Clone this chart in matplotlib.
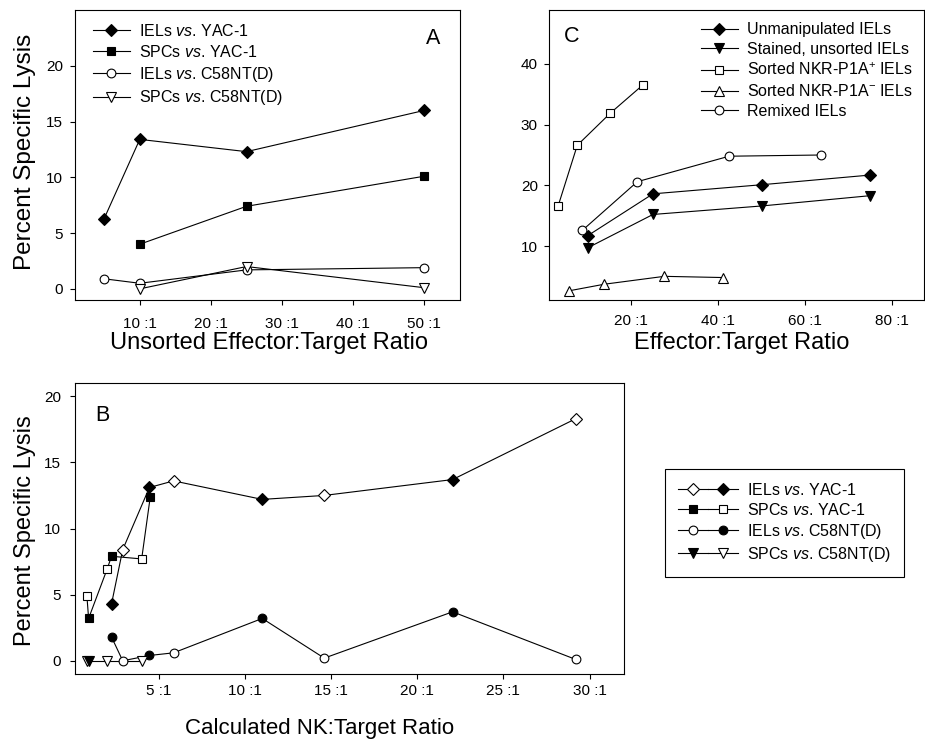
import matplotlib.pyplot as plt
from matplotlib.lines import Line2D
from matplotlib.legend_handler import HandlerTuple

plt.rcParams['font.family'] = ['Liberation Sans', 'DejaVu Sans']
plt.rcParams['mathtext.fontset'] = 'custom'
plt.rcParams['mathtext.rm'] = 'Liberation Sans'
plt.rcParams['mathtext.it'] = 'Liberation Sans:italic'

# ---- Panel A: unsorted effector:target ----
a_iel_yac_x = [5, 10, 25, 50]
a_iel_yac_y = [6.3, 13.4, 12.3, 16.0]
a_spc_yac_x = [10, 25, 50]
a_spc_yac_y = [4.0, 7.4, 10.1]
a_iel_c58_x = [5, 10, 25, 50]
a_iel_c58_y = [0.9, 0.5, 1.7, 1.9]
a_spc_c58_x = [10, 25, 50]
a_spc_c58_y = [0.0, 2.0, 0.1]
a_xticks = [10, 20, 30, 40, 50]
a_xticklabels = ['10 :1', '20 :1', '30 :1', '40 :1', '50 :1']
a_yticks = [0, 5, 10, 15, 20]

# ---- Panel C: sorted populations ----
c_unman_x = [10, 25, 50, 75]
c_unman_y = [11.7, 18.6, 20.1, 21.7]
c_stained_x = [10, 25, 50, 75]
c_stained_y = [9.7, 15.2, 16.6, 18.3]
c_pos_x = [3.2, 7.6, 15.2, 22.6]
c_pos_y = [16.6, 26.6, 31.9, 36.5]
c_neg_x = [5.6, 13.8, 27.6, 41.2]
c_neg_y = [2.6, 3.7, 5.0, 4.8]
c_remix_x = [8.8, 21.4, 42.5, 63.7]
c_remix_y = [12.6, 20.6, 24.8, 25.0]
c_xticks = [20, 40, 60, 80]
c_xticklabels = ['20 :1', '40 :1', '60 :1', '80 :1']
c_yticks = [10, 20, 30, 40]

# ---- Panel B: calculated NK:target (two experiments: open / filled) ----
b_iel_yac_open_x = [2.9, 5.85, 14.6, 29.2]
b_iel_yac_open_y = [8.4, 13.6, 12.5, 18.3]
b_iel_yac_fill_x = [2.25, 4.45, 11.0, 22.05]
b_iel_yac_fill_y = [4.3, 13.1, 12.2, 13.7]
b_spc_yac_open_x = [0.82, 2.0, 4.0]
b_spc_yac_open_y = [4.9, 6.95, 7.7]
b_spc_yac_fill_x = [0.92, 2.25, 4.5]
b_spc_yac_fill_y = [3.2, 7.9, 12.4]
b_iel_c58_open_x = [2.9, 5.85, 14.6, 29.2]
b_iel_c58_open_y = [0.0, 0.6, 0.2, 0.1]
b_iel_c58_fill_x = [2.25, 4.45, 11.0, 22.05]
b_iel_c58_fill_y = [1.8, 0.4, 3.2, 3.7]
b_spc_c58_open_x = [0.82, 2.0, 4.0]
b_spc_c58_open_y = [0.0, 0.0, 0.0]
b_spc_c58_fill_x = [0.92]
b_spc_c58_fill_y = [0.0]
b_xticks = [5, 10, 15, 20, 25, 30]
b_xticklabels = ['5 :1', '10 :1', '15 :1', '20 :1', '25 :1', '30 :1']
b_yticks = [0, 5, 10, 15, 20]

LW = 0.8
MEW = 0.8
SIZES = {'D': 6, 's': 6.2, 'o': 6.3, 'v': 6.5, '^': 6.5}


def style(marker, filled):
    return dict(marker=marker, ms=SIZES[marker], mew=MEW, mec='black',
                mfc='black' if filled else 'white', color='black', lw=LW)


def series(ax, x, y, marker, filled, label=None):
    ax.plot(x, y, label=label, zorder=3, **style(marker, filled))


def merged(ax, xo, yo, xf, yf, marker):
    # one line through both experiments, ordered by ratio
    pts = sorted(list(zip(xo, yo)) + list(zip(xf, yf)))
    ax.plot([p[0] for p in pts], [p[1] for p in pts], color='black', lw=LW, zorder=2)
    so = style(marker, False)
    sf = style(marker, True)
    so.pop('lw')
    sf.pop('lw')
    ax.plot(xo, yo, ls='none', zorder=3, **so)
    ax.plot(xf, yf, ls='none', zorder=3, **sf)


def frame(ax, xpad, ypad):
    for s in ax.spines.values():
        s.set_linewidth(0.8)
    ax.tick_params(axis='both', direction='out', length=3.5, width=0.8, labelsize=11)
    ax.tick_params(axis='x', pad=xpad)
    ax.tick_params(axis='y', pad=ypad)


fig = plt.figure(figsize=(9.25, 7.43), dpi=100)

vs = r'$\mathit{vs}$.'

# Panel A
axA = fig.add_axes([75 / 925, 1 - 300 / 743, 385 / 925, 290 / 743])
series(axA, a_iel_yac_x, a_iel_yac_y, 'D', True, f'IELs {vs} YAC-1')
series(axA, a_spc_yac_x, a_spc_yac_y, 's', True, f'SPCs {vs} YAC-1')
series(axA, a_iel_c58_x, a_iel_c58_y, 'o', False, f'IELs {vs} C58NT(D)')
series(axA, a_spc_c58_x, a_spc_c58_y, 'v', False, f'SPCs {vs} C58NT(D)')
axA.set_xlim(0.9, 55)
axA.set_ylim(-1, 25)
axA.set_xticks(a_xticks)
axA.set_xticklabels(a_xticklabels)
axA.set_yticks(a_yticks)
frame(axA, 8.5, 5)
axA.set_xlabel('Unsorted Effector:Target Ratio', fontsize=17)
axA.set_ylabel('Percent Specific Lysis', fontsize=17.5)
axA.xaxis.label.set_va('center')
axA.yaxis.label.set_va('center')
axA.xaxis.set_label_coords(0.504, -0.150)
axA.yaxis.set_label_coords(-0.130, 0.51)
axA.text(0.93, 0.903, 'A', transform=axA.transAxes, fontsize=15.5, ha='center', va='center')
axA.legend(loc='upper left', bbox_to_anchor=(0.047, 0.955), frameon=False, fontsize=11.5,
           borderpad=0, borderaxespad=0, handlelength=2.3, handletextpad=0.6,
           labelspacing=0.3, numpoints=1)

# Panel C
axC = fig.add_axes([549 / 925, 1 - 300 / 743, 375 / 925, 290 / 743])
series(axC, c_unman_x, c_unman_y, 'D', True, 'Unmanipulated IELs')
series(axC, c_stained_x, c_stained_y, 'v', True, 'Stained, unsorted IELs')
series(axC, c_pos_x, c_pos_y, 's', False, r'Sorted NKR-P1A$^{+}$ IELs')
series(axC, c_neg_x, c_neg_y, '^', False, r'Sorted NKR-P1A$^{-}$ IELs')
series(axC, c_remix_x, c_remix_y, 'o', False, 'Remixed IELs')
axC.set_xlim(1.1, 87.3)
axC.set_ylim(1.1, 48.9)
axC.set_xticks(c_xticks)
axC.set_xticklabels(c_xticklabels)
axC.set_yticks(c_yticks)
frame(axC, 6.5, 4.5)
axC.set_xlabel('Effector:Target Ratio', fontsize=17)
axC.xaxis.label.set_va('center')
axC.xaxis.set_label_coords(0.515, -0.150)
axC.text(0.061, 0.907, 'C', transform=axC.transAxes, fontsize=15.5, ha='center', va='center')
axC.legend(loc='upper left', bbox_to_anchor=(0.405, 0.958), frameon=False, fontsize=11.5,
           borderpad=0, borderaxespad=0, handlelength=2.3, handletextpad=0.6,
           labelspacing=0.3, numpoints=1)

# Panel B
axB = fig.add_axes([75 / 925, 1 - 674 / 743, 549 / 925, 291 / 743])
merged(axB, b_iel_yac_open_x, b_iel_yac_open_y, b_iel_yac_fill_x, b_iel_yac_fill_y, 'D')
merged(axB, b_spc_yac_open_x, b_spc_yac_open_y, b_spc_yac_fill_x, b_spc_yac_fill_y, 's')
merged(axB, b_iel_c58_open_x, b_iel_c58_open_y, b_iel_c58_fill_x, b_iel_c58_fill_y, 'o')
merged(axB, b_spc_c58_open_x, b_spc_c58_open_y, b_spc_c58_fill_x, b_spc_c58_fill_y, 'v')
axB.set_xlim(0.13, 32)
axB.set_ylim(-1, 21)
axB.set_xticks(b_xticks)
axB.set_xticklabels(b_xticklabels)
axB.set_yticks(b_yticks)
frame(axB, 3.6, 6.5)
axB.set_xlabel('Calculated NK:Target Ratio', fontsize=16)
axB.set_ylabel('Percent Specific Lysis', fontsize=17)
axB.xaxis.label.set_va('center')
axB.yaxis.label.set_va('center')
axB.xaxis.set_label_coords(0.446, -0.189)
axB.yaxis.set_label_coords(-0.091, 0.491)
axB.text(0.049, 0.89, 'B', transform=axB.transAxes, fontsize=15.5, ha='center', va='center')


# Panel B legend (open/filled pairs = two experiments)
def hl(marker, filled):
    return Line2D([], [], **style(marker, filled))


b_handles = [(hl('D', False), hl('D', True)),
             (hl('s', True), hl('s', False)),
             (hl('o', False), hl('o', True)),
             (hl('v', True), hl('v', False))]
b_labels = [f'IELs {vs} YAC-1', f'SPCs {vs} YAC-1',
            f'IELs {vs} C58NT(D)', f'SPCs {vs} C58NT(D)']
legB = fig.legend(b_handles, b_labels, loc='upper left',
                  bbox_to_anchor=(665 / 925, 1 - 469 / 743), fontsize=11.5,
                  handler_map={tuple: HandlerTuple(ndivide=None, pad=0)},
                  handlelength=3.8, handletextpad=0.55, labelspacing=0.25,
                  borderpad=0.8, borderaxespad=0, numpoints=1, fancybox=False,
                  edgecolor='black', framealpha=1)
legB.get_frame().set_linewidth(0.8)

fig.savefig('out.png', dpi=100)
